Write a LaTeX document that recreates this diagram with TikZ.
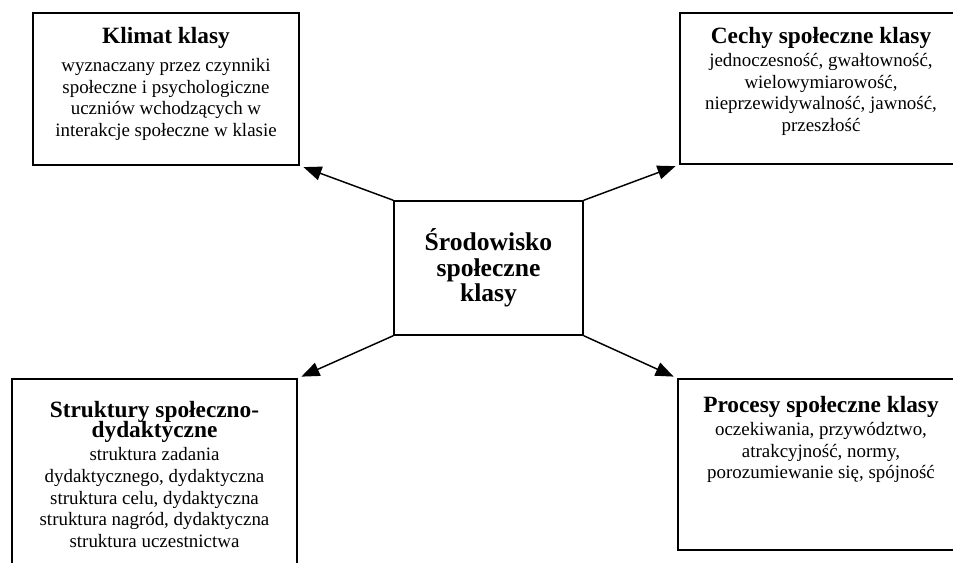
\documentclass[tikz,border=0pt]{standalone}
\usepackage{fontspec}
\setmainfont{Liberation Serif}
\usetikzlibrary{positioning,arrows.meta}

\tikzset{
  ramka/.style={draw, line width=1.1pt, inner sep=0pt},
  opis/.style={inner sep=0pt, align=center, font=\fontsize{14.2}{16.3}\selectfont},
  strzalka/.style={line width=1.1pt, -{Triangle[length=13.5pt,width=10.5pt]}, shorten >=3pt},
}
\newcommand{\tytul}{\fontsize{17.5}{15}\selectfont\bfseries}

\begin{document}
\begin{tikzpicture}[x=0.75pt, y=-0.75pt]
  \clip (0,0) rectangle (953,563);
  % Ramki
  \node[ramka, minimum width=141.75pt, minimum height=100.5pt, align=center,
        font=\fontsize{19.2}{19.2}\selectfont\bfseries] (srodek) at (488.5,268)
        {Środowisko\\społeczne\\klasy};
  \node[ramka, minimum width=199.5pt, minimum height=114pt] (klimat) at (166,89) {};
  \node[ramka, minimum width=211.5pt, minimum height=113.25pt] (cechy) at (821,88.5) {};
  \node[ramka, minimum width=213.75pt, minimum height=165pt] (struktury) at (154.5,489) {};
  \node[ramka, minimum width=214.5pt, minimum height=128.25pt] (procesy) at (821,464.5) {};

  % Teksty w ramkach
  \node[opis, below=11.25pt of klimat.north] (klimatT)
    {{\tytul Klimat klasy}\\[4.5pt]
     wyznaczany przez czynniki\\
     społeczne i psychologiczne\\
     uczniów wchodzących w\\
     interakcje społeczne w klasie};
  \node[opis, below=11.25pt of cechy.north] (cechyT)
    {{\tytul Cechy społeczne klasy}\\[0.7pt]
     jednoczesność, gwałtowność,\\
     wielowymiarowość,\\
     nieprzewidywalność, jawność,\\
     przeszłość};
  \node[opis, below=16.9pt of struktury.north] (strukturyT)
    {{\tytul Struktury społeczno-}\\[-0.9pt]
     {\tytul dydaktyczne}\\[0.8pt]
     struktura zadania\\
     dydaktycznego, dydaktyczna\\
     struktura celu, dydaktyczna\\
     struktura nagród, dydaktyczna\\
     struktura uczestnictwa};
  \node[opis, below=13.1pt of procesy.north] (procesyT)
    {{\tytul Procesy społeczne klasy}\\[1.2pt]
     oczekiwania, przywództwo,\\
     atrakcyjność, normy,\\
     porozumiewanie się, spójność};

  % Strzalki
  \draw[strzalka] (srodek.north west) -- (klimat.south east);
  \draw[strzalka] (srodek.north east) -- (cechy.south west);
  \draw[strzalka] (srodek.south west) -- (struktury.north east);
  \draw[strzalka] (srodek.south east) -- (procesy.north west);
\end{tikzpicture}
\end{document}
